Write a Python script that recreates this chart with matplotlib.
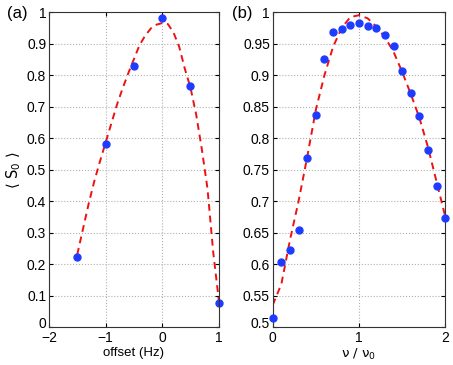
import matplotlib
matplotlib.use("Agg")
import matplotlib.pyplot as plt
from matplotlib.ticker import FuncFormatter
from matplotlib.transforms import ScaledTranslation

plt.rcParams["font.family"] = ["Liberation Sans", "DejaVu Sans"]
plt.rcParams["font.size"] = 9

# panel (a): measured points and fit
offset = [-1.5, -1.0, -0.5, 0.0, 0.5, 1.0]
s0_a = [0.223, 0.582, 0.830, 0.982, 0.765, 0.075]
fit_x_a = [-1.5, -1.4, -1.3, -1.2, -1.1, -1.0, -0.9, -0.8, -0.7, -0.6, -0.5,
           -0.4, -0.3, -0.2, -0.1, 0.0, 0.1, 0.2, 0.3, 0.4, 0.5, 0.6, 0.7,
           0.8, 0.9, 1.0]
fit_y_a = [0.230, 0.310, 0.390, 0.462, 0.525, 0.585, 0.645, 0.705, 0.757,
           0.805, 0.850, 0.895, 0.925, 0.948, 0.960, 0.965, 0.962, 0.935,
           0.890, 0.820, 0.760, 0.675, 0.565, 0.440, 0.240, 0.085]

# panel (b): measured points and fit
nu = [0.0, 0.1, 0.2, 0.3, 0.4, 0.5, 0.6, 0.7, 0.8, 0.9, 1.0, 1.1, 1.2, 1.3,
      1.4, 1.5, 1.6, 1.7, 1.8, 1.9, 2.0]
s0_b = [0.515, 0.603, 0.622, 0.654, 0.768, 0.837, 0.925, 0.968, 0.973,
        0.980, 0.982, 0.978, 0.975, 0.964, 0.946, 0.907, 0.871, 0.835,
        0.781, 0.724, 0.673]
fit_x_b = nu
fit_y_b = [0.535, 0.568, 0.638, 0.700, 0.770, 0.845, 0.900, 0.945, 0.975,
           0.992, 0.995, 0.990, 0.977, 0.960, 0.937, 0.905, 0.870, 0.832,
           0.785, 0.730, 0.675]

dot_color = "#1e3cff"
fit_color = "#ee1111"
fmt = FuncFormatter(lambda v, p: ("%g" % v).replace("-", "\u2212"))

fig = plt.figure(figsize=(4.53, 3.65), dpi=100)
ax1 = fig.add_axes([0.108, 0.104, 0.375, 0.863])
ax2 = fig.add_axes([0.602, 0.104, 0.381, 0.863])

ax1.plot(fit_x_a, fit_y_a, "--", color=fit_color, lw=1.4, dashes=(3.5, 2.5))
ax1.plot(offset, s0_a, "o", color=dot_color, ms=5, mec=dot_color, clip_on=False)
ax1.set_xlim(-2, 1)
ax1.set_ylim(0, 1)
ax1.set_xticks([-2, -1, 0, 1])
ax1.set_yticks([i / 10 for i in range(11)])
ax1.set_xlabel("offset (Hz)", labelpad=1, fontsize=9.5)
ax1.set_ylabel(r"$\langle\ \mathrm{S_0}\ \rangle$", labelpad=3, fontsize=10.5)

ax2.plot(fit_x_b, fit_y_b, "--", color=fit_color, lw=1.4, dashes=(3.5, 2.5))
ax2.plot(nu, s0_b, "o", color=dot_color, ms=5, mec=dot_color, clip_on=False, zorder=5)
ax2.set_xlim(0, 2)
ax2.set_ylim(0.5, 1)
ax2.set_xticks([0, 1, 2])
ax2.set_yticks([0.5 + i * 0.05 for i in range(11)])
ax2.set_xlabel(r"$\mathrm{\nu\ /\ \nu_0}$", labelpad=1, fontsize=9.5)

for ax in (ax1, ax2):
    ax.xaxis.set_major_formatter(fmt)
    ax.yaxis.set_major_formatter(fmt)
    ax.grid(True, linestyle=":", color="#b0b0b0", lw=0.8)
    ax.tick_params(direction="in", top=True, right=True, length=3, labelsize=10)
    ax.tick_params(axis="x", pad=3)
    ax.tick_params(axis="y", pad=2)
    for sp in ax.spines.values():
        sp.set_color("#333333")
        sp.set_linewidth(0.8)

# lift the bottom y tick labels a little so they clear the x tick labels
for ax in (ax1, ax2):
    lab = ax.yaxis.get_major_ticks()[0].label1
    lab.set_transform(lab.get_transform() + ScaledTranslation(0, 3 / 72, fig.dpi_scale_trans))

fig.text(0.016, 0.952, "(a)", fontsize=12)
fig.text(0.512, 0.952, "(b)", fontsize=12)

fig.savefig("out.png", dpi=100)
